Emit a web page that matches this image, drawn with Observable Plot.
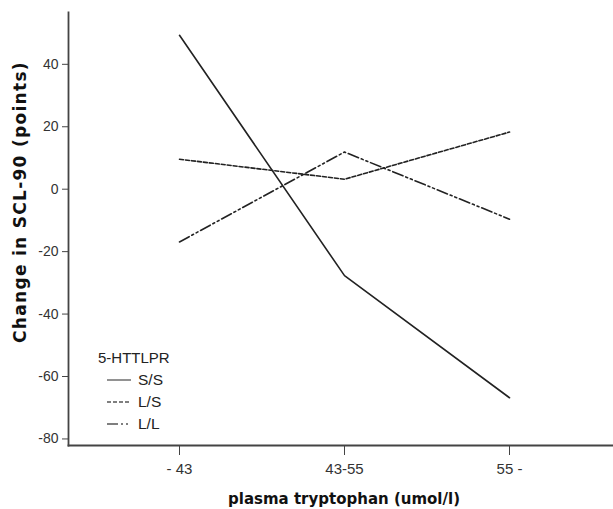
<!DOCTYPE html>
<html>
<head>
<meta charset="utf-8">
<script src="https://cdn.jsdelivr.net/npm/d3@7"></script>
<script src="https://cdn.jsdelivr.net/npm/@observablehq/plot@0.6"></script>
<style>
  html, body { margin: 0; padding: 0; background: #fff; }
  #chart { position: relative; width: 613px; height: 509px; }
</style>
</head>
<body>
<div id="chart"></div>
<script>
// ---- data ----
const groups = ["- 43", "43-55", "55 -"];
const seriesNames = ["S/S", "L/S", "L/L"];
const ssValues = [49.3, -27.7, -66.8];
const lsValues = [9.6, 3.2, 18.3];
const llValues = [-16.9, 11.9, -9.6];
const yTicks = [40, 20, 0, -20, -40, -60, -80];
const legendTitle = "5-HTTLPR";
const xLabel = "plasma tryptophan (umol/l)";
const yLabel = "Change in SCL-90 (points)";

// ---- styles ----
const dashStyle = { "S/S": null, "L/S": "4,2", "L/L": "11,3,2,3,2,3" };
const strokeColor = { "S/S": "#222", "L/S": "#222", "L/L": "#222" };

const valuesBySeries = { "S/S": ssValues, "L/S": lsValues, "L/L": llValues };
const rows = seriesNames.flatMap(s => groups.map((g, i) => ({ series: s, group: g, value: valuesBySeries[s][i] })));

const font = "'Liberation Sans', Arial, sans-serif";
const boldFont = "'DejaVu Sans', sans-serif";

const lineMarks = seriesNames.map(s =>
  Plot.line(rows.filter(d => d.series === s), {
    x: "group", y: "value",
    stroke: strokeColor[s], strokeWidth: 1.6,
    strokeDasharray: dashStyle[s] || undefined
  })
);

const plot = Plot.plot({
  width: 613, height: 509,
  marginLeft: 68, marginRight: 0, marginTop: 12, marginBottom: 64,
  style: { fontFamily: font, fontSize: "14px", color: "#333", background: "#fff" },
  x: { type: "point", domain: groups, range: [178.5, 509.5], padding: 0 },
  y: { domain: [-82.1, 56.6] },
  marks: [
    Plot.axisY({ ticks: yTicks, tickSize: 6, tickPadding: 4, label: null, fontSize: 14, stroke: "#444", tickFormat: d => String(d) }),
    Plot.axisX({ tickSize: 10, tickPadding: 8, label: null, fontSize: 15, stroke: "#444" }),
    Plot.frame({ anchor: "left", stroke: "#444", strokeWidth: 1.8 }),
    Plot.frame({ anchor: "bottom", stroke: "#444", strokeWidth: 1.8 }),
    ...lineMarks,
    Plot.text([xLabel], { frameAnchor: "bottom", dx: 3, dy: 58, fontWeight: "bold", fontSize: 15, fill: "#111", fontFamily: boldFont })
  ]
});

document.getElementById("chart").appendChild(plot);

const svg = d3.select(plot);

// ---- y axis title ----
svg.append("text")
  .attr("transform", "translate(20,202) rotate(-90)")
  .attr("text-anchor", "middle").attr("dy", "0.35em")
  .attr("font-family", boldFont).attr("font-weight", "bold")
  .attr("font-size", 17).attr("letter-spacing", 1.3).attr("fill", "#111")
  .text(yLabel);

// ---- legend inside plot area ----
const lg = svg.append("g").attr("font-family", font).attr("fill", "#222").attr("text-anchor", "start");
lg.append("text").attr("x", 98).attr("y", 358).attr("dy", "0.35em").attr("font-size", 15).text(legendTitle);
seriesNames.forEach((s, i) => {
  const yy = 380 + i * 22;
  lg.append("line").attr("x1", 107).attr("x2", 131).attr("y1", yy).attr("y2", yy)
    .attr("stroke", s === "S/S" ? "#777" : "#555").attr("stroke-width", 1.6)
    .attr("stroke-dasharray", dashStyle[s]);
  lg.append("text").attr("x", 138).attr("y", yy).attr("dy", "0.35em").attr("font-size", 15.5).text(s);
});
</script>
</body>
</html>
